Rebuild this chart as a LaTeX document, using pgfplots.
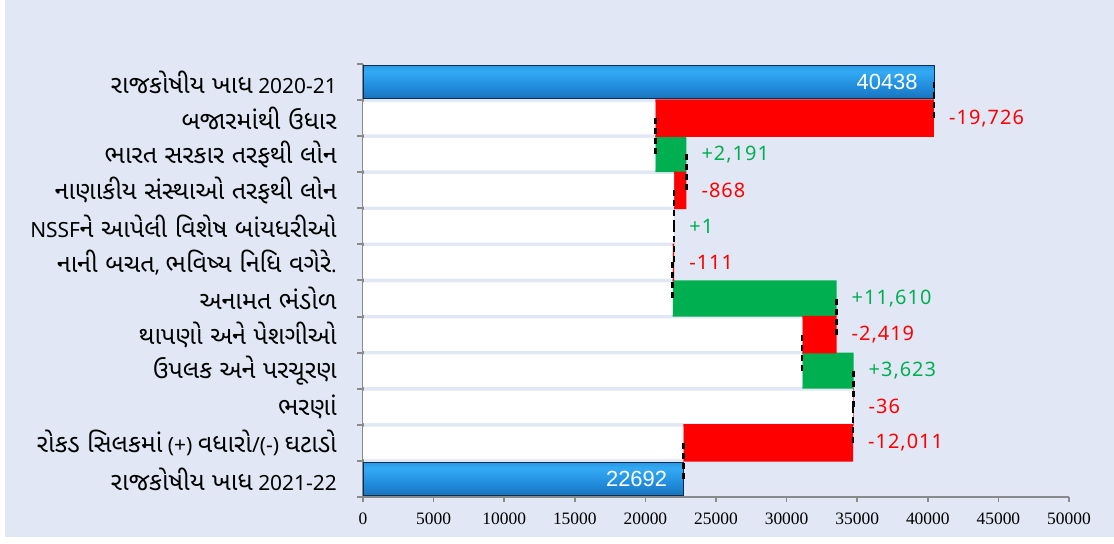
\documentclass[border=0pt]{standalone}
\usepackage{pgfplots}
\pgfplotsset{compat=1.18}
\usepackage{fontspec}
\setmainfont{Noto Sans}
\newfontfamily\guj[Script=Gujarati, Scale=1.2]{Noto Sans Gujarati UI}
\newfontfamily\arialf{Liberation Sans}
\newfontfamily\tnr{Liberation Serif}
\newfontfamily\valf[LetterSpace=5]{Noto Sans}
\definecolor{bgc}{HTML}{E1E7F5}
\definecolor{myred}{HTML}{FF0000}
\definecolor{mygreen}{HTML}{00B050}
\definecolor{axgray}{HTML}{8A8A8A}
\definecolor{bA}{HTML}{0B2D50}
\definecolor{bB}{HTML}{145FA0}
\definecolor{bC}{HTML}{1F88D8}
\definecolor{bD}{HTML}{33AAF5}
\definecolor{bE}{HTML}{1F80CF}
\definecolor{bF}{HTML}{1C4A78}
\pgfdeclareverticalshading{bluebar}{100bp}{color(0bp)=(bA); color(12bp)=(bB); color(40bp)=(bC); color(66bp)=(bD); color(86bp)=(bE); color(100bp)=(bF)}
\pgfplotsset{
  totalbar/.style={xbar, bar shift=0pt, bar width=0.93, draw=bA, line width=0.8bp,
    shade, shading=bluebar,
    nodes near coords, point meta=explicit symbolic,
    nodes near coords style={anchor=east, xshift=-16bp, text=white, inner sep=0pt,
      font=\arialf\fontsize{22}{22}\selectfont}},
  vallab/.style={only marks, mark=none, nodes near coords, point meta=explicit symbolic,
    nodes near coords style={anchor=west, xshift=15bp, inner sep=0pt, text=#1,
      font=\valf\fontsize{20}{20}\selectfont}},
}
\begin{document}
\begin{tikzpicture}[x=1bp,y=1bp]
\path[use as bounding box] (0,0) rectangle (1114,544);
\fill[white] (0,0) rectangle (1114,544);
\fill[bgc] (5,7) rectangle (1114,544);
% axis 1: waterfall bars (stacked)
\begin{axis}[
  at={(363bp,47bp)}, anchor=south west,
  scale only axis, width=706bp, height=433bp,
  xmin=0, xmax=50000, ymin=-0.5, ymax=11.5,
  enlargelimits=false,
  xbar stacked,
  axis x line*=bottom, axis y line*=left,
  axis line style={axgray, line width=2bp},
  tick align=outside,
  xtick={0,5000,...,50000},
  scaled x ticks=false,
  major tick length=5bp,
  major x tick style={axgray, line width=1.5bp},
  ytick={0,...,11},
  major y tick style={draw=none},
  minor ytick={-0.5,0.5,...,11.5},
  minor y tick style={axgray, line width=2bp},
  minor tick length=6bp,
  xticklabel style={font=\tnr\fontsize{17.5}{17.5}\selectfont, yshift=-7bp},
  /pgf/number format/assume math mode=true,
  /pgf/number format/1000 sep={},
  yticklabel style={font=\fontsize{21}{21}\selectfont, anchor=east, xshift=-21bp, inner sep=0pt},
  yticklabels={
    {{\guj રાજકોષીય ખાધ} 2021-22},
    {{\guj રોકડ સિલકમાં} (+) {\guj વધારો}/(-) {\guj ઘટાડો}},
    {{\guj ભરણાં}},
    {{\guj ઉપલક અને પરચૂરણ}},
    {{\guj થાપણો અને પેશગીઓ}},
    {{\guj અનામત ભંડોળ}},
    {{\guj નાની બચત}, {\guj ભવિષ્ય નિધિ વગેરે}.},
    {NSSF{\guj ને આપેલી વિશેષ બાંયધરીઓ}},
    {{\guj નાણાકીય સંસ્થાઓ તરફથી લોન}},
    {{\guj ભારત સરકાર તરફથી લોન}},
    {{\guj બજારમાંથી ઉધાર}},
    {{\guj રાજકોષીય ખાધ} 2020-21}
  },
]
% invisible (white) base
\addplot[fill=white, draw=none, bar width=0.9] coordinates {
  (0,0) (22692,1) (34703,2) (31116,3) (31116,4) (21925,5)
  (21925,6) (22035,7) (22035,8) (20712,9) (20712,10) (0,11)};
% decreases
\addplot[fill=myred, draw=none, bar width=1.04] coordinates {
  (0,0) (12011,1) (36,2) (0,3) (2419,4) (0,5)
  (111,6) (0,7) (868,8) (0,9) (19726,10) (0,11)};
% increases
\addplot[fill=mygreen, draw=none, bar width=1.0] coordinates {
  (0,0) (0,1) (0,2) (3623,3) (0,4) (11610,5)
  (0,6) (1,7) (0,8) (2191,9) (0,10) (0,11)};
\end{axis}
% axis 2: totals, connectors, labels
\begin{axis}[
  at={(363bp,47bp)}, anchor=south west,
  scale only axis, width=706bp, height=433bp,
  xmin=0, xmax=50000, ymin=-0.5, ymax=11.5,
  enlargelimits=false, hide axis, clip=false,
]
\addplot[totalbar] coordinates {(40438,11) [40438]};
\addplot[totalbar] coordinates {(22692,0) [22692]};
\addplot[black, line width=2.2bp, dash pattern=on 6bp off 4bp, unbounded coords=jump]
  coordinates {
  (40438,11) (40438,10) (nan,nan)
  (20712,10) (20712,9) (nan,nan)
  (22903,9) (22903,8) (nan,nan)
  (22035,8) (22035,7) (nan,nan)
  (22036,7) (22036,6) (nan,nan)
  (21925,6) (21925,5) (nan,nan)
  (33535,5) (33535,4) (nan,nan)
  (31116,4) (31116,3) (nan,nan)
  (34739,3) (34739,2) (nan,nan)
  (34703,2) (34703,1) (nan,nan)
  (22692,1) (22692,0)};
\addplot[vallab=myred]
  coordinates {(22903,8) [-868] (22036,6) [-111]
    (33535,4) [{-2,419}] (34739,2) [-36] (34703,1) [{-12,011}] (40438,10) [{-19,726}]};
\addplot[vallab=mygreen]
  coordinates {(22903,9) [{+2,191}] (22036,7) [+1] (33535,5) [{+11,610}]
    (34739,3) [{+3,623}]};
\end{axis}
\end{tikzpicture}
\end{document}
